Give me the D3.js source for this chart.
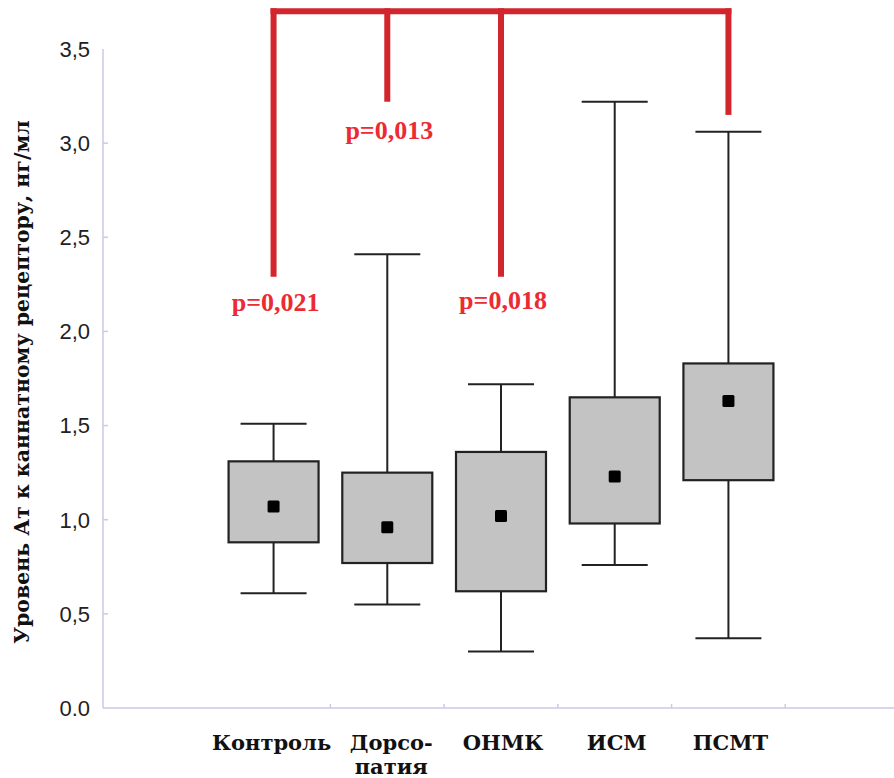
<!DOCTYPE html>
<html>
<head>
<meta charset="utf-8">
<script src="https://cdn.jsdelivr.net/npm/d3@7"></script>
<style>
  body { margin: 0; background: #fff; }
  svg { display: block; }
</style>
</head>
<body>
<script>
(function () {
  'use strict';

  // group names (Дорсопатия is split in two lines on the chart)
  const groups = ["Контроль", "Дорсо-|патия", "ОНМК", "ИСМ", "ПСМТ"];
  const whiskerLow = [0.61, 0.55, 0.30, 0.76, 0.37];
  const q1 = [0.88, 0.77, 0.62, 0.98, 1.21];
  const mean = [1.07, 0.96, 1.02, 1.23, 1.63];
  const q3 = [1.31, 1.25, 1.36, 1.65, 1.83];
  const whiskerHigh = [1.51, 2.41, 1.72, 3.22, 3.06];

  const yTicks = [0, 0.5, 1, 1.5, 2, 2.5, 3, 3.5];

  // significance bracket: top level and where each leg ends (null = no leg)
  const bracketTop = 3.70;
  const bracketLegs = [2.29, 3.22, 2.29, null, 3.15];
  const pLabels = [
    { group: 0, text: "p=0,021", value: 2.11 },
    { group: 1, text: "p=0,013", value: 3.02 },
    { group: 2, text: "p=0,018", value: 2.12 }
  ];

  const yTitle = "Уровень Ат к каннатному рецептору, нг/мл";

  const width = 894, height = 778;
  const red = "#d2252d";
  const serif = "'Liberation Serif', 'Times New Roman', serif";
  const cyrSerif = "'DejaVu Serif', serif";

  const svg = d3.select("body").append("svg")
    .attr("width", width)
    .attr("height", height);

  // 7 slots: an empty one on each side of the five groups
  const slots = d3.range(groups.length + 2);
  const x = d3.scaleBand().domain(slots).range([103, 899]).padding(0);
  const cx = i => x(i + 1) + x.bandwidth() / 2;

  const y = d3.scaleLinear().domain([0, 3.5]).range([708, 49]);

  // axes
  const axisColor = "#c9c9e8";
  svg.append("line")
    .attr("x1", 103).attr("x2", 103)
    .attr("y1", y(3.5)).attr("y2", y(0))
    .attr("stroke", axisColor).attr("stroke-width", 1.5);
  svg.append("line")
    .attr("x1", 103).attr("x2", width)
    .attr("y1", y(0)).attr("y2", y(0))
    .attr("stroke", axisColor).attr("stroke-width", 1.5);

  svg.selectAll(".ytick").data(yTicks.filter(d => d > 0 && d < 3.5))
    .enter().append("line")
      .attr("x1", 103).attr("x2", 108)
      .attr("y1", d => y(d)).attr("y2", d => y(d))
      .attr("stroke", axisColor).attr("stroke-width", 1.5);

  svg.selectAll(".xtick").data(slots.slice(2))
    .enter().append("line")
      .attr("x1", d => x(d)).attr("x2", d => x(d))
      .attr("y1", y(0) - 4).attr("y2", y(0))
      .attr("stroke", axisColor).attr("stroke-width", 1.5);

  svg.selectAll(".ylab").data(yTicks)
    .enter().append("text")
      .attr("x", 90)
      .attr("y", d => y(d))
      .attr("dy", "0.36em")
      .attr("text-anchor", "end")
      .attr("font-family", "'Liberation Sans', Arial, sans-serif")
      .attr("font-size", 22)
      .attr("fill", "#222")
      .text(d => d === 0 ? "0.0" : d.toFixed(1).replace(".", ","));

  svg.append("text")
    .attr("transform", "translate(29," + 382 + ")rotate(-90)")
    .attr("text-anchor", "middle")
    .attr("font-family", cyrSerif)
    .attr("font-weight", "bold")
    .attr("font-size", 20.5)
    .attr("fill", "#111")
    .text(yTitle);

  // x labels
  const xl = svg.selectAll(".xlab").data(groups)
    .enter().append("text")
      .attr("text-anchor", "middle")
      .attr("font-family", cyrSerif)
      .attr("font-weight", "bold")
      .attr("font-size", 21)
      .attr("fill", "#111");
  xl.each(function (d, i) {
    d.split("|").forEach((part, k) => {
      d3.select(this).append("tspan")
        .attr("x", cx(i) + (i === 0 ? -2 : i === 1 ? 4 : 2))
        .attr("y", 750 + k * 24)
        .text(part);
    });
  });

  // boxes
  const boxW = 90, capW = 66;
  const g = svg.selectAll(".box").data(groups)
    .enter().append("g");

  g.append("line")
    .attr("x1", (d, i) => cx(i)).attr("x2", (d, i) => cx(i))
    .attr("y1", (d, i) => y(whiskerHigh[i])).attr("y2", (d, i) => y(whiskerLow[i]))
    .attr("stroke", "#222").attr("stroke-width", 2);
  [whiskerHigh, whiskerLow].forEach(arr => {
    g.append("line")
      .attr("x1", (d, i) => cx(i) - capW / 2).attr("x2", (d, i) => cx(i) + capW / 2)
      .attr("y1", (d, i) => y(arr[i])).attr("y2", (d, i) => y(arr[i]))
      .attr("stroke", "#222").attr("stroke-width", 2);
  });
  g.append("rect")
    .attr("x", (d, i) => cx(i) - boxW / 2)
    .attr("width", boxW)
    .attr("y", (d, i) => y(q3[i]))
    .attr("height", (d, i) => y(q1[i]) - y(q3[i]))
    .attr("fill", "#c3c3c3")
    .attr("stroke", "#222").attr("stroke-width", 2.2);
  g.append("rect")
    .attr("x", (d, i) => cx(i) - 6)
    .attr("y", (d, i) => y(mean[i]) - 6)
    .attr("width", 12).attr("height", 12)
    .attr("rx", 1.5)
    .attr("fill", "#000");

  // significance bracket
  const legIdx = bracketLegs.map((v, i) => i).filter(i => bracketLegs[i] !== null);
  svg.append("line")
    .attr("x1", cx(legIdx[0]) - 3).attr("x2", cx(legIdx[legIdx.length - 1]) + 3)
    .attr("y1", y(bracketTop)).attr("y2", y(bracketTop))
    .attr("stroke", red).attr("stroke-width", 6);
  svg.selectAll(".leg").data(legIdx)
    .enter().append("line")
      .attr("x1", i => cx(i)).attr("x2", i => cx(i))
      .attr("y1", y(bracketTop) - 3).attr("y2", i => y(bracketLegs[i]))
      .attr("stroke", red).attr("stroke-width", 6);

  svg.selectAll(".plab").data(pLabels)
    .enter().append("text")
      .attr("x", d => cx(d.group) + 2)
      .attr("y", d => y(d.value))
      .attr("text-anchor", "middle")
      .attr("font-family", serif)
      .attr("font-weight", "bold")
      .attr("font-size", 26)
      .attr("fill", "#ec2a33")
      .text(d => d.text);
}());
</script>
</body>
</html>
